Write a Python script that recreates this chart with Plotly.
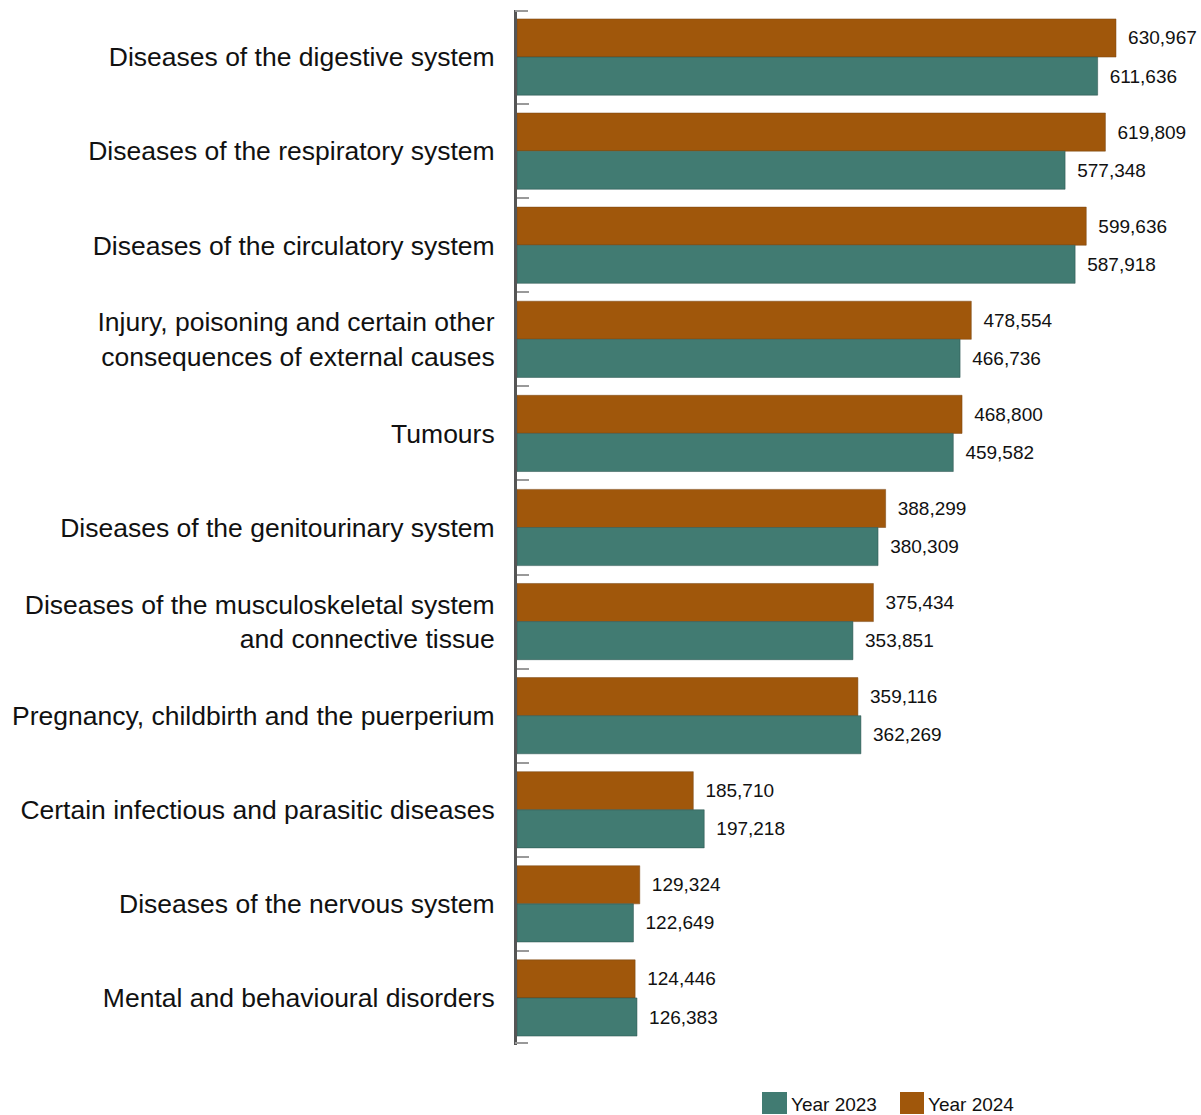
import plotly.graph_objects as go

categories = [
    "Diseases of the digestive system",
    "Diseases of the respiratory system",
    "Diseases of the circulatory system",
    "Injury, poisoning and certain other<br>consequences of external causes",
    "Tumours",
    "Diseases of the genitourinary system",
    "Diseases of the musculoskeletal system<br>and connective tissue",
    "Pregnancy, childbirth and the puerperium",
    "Certain infectious and parasitic diseases",
    "Diseases of the nervous system",
    "Mental and behavioural disorders",
]
year_2024 = [630967, 619809, 599636, 478554, 468800, 388299, 375434, 359116, 185710, 129324, 124446]
year_2023 = [611636, 577348, 587918, 466736, 459582, 380309, 353851, 362269, 197218, 122649, 126383]

C2023 = "#417B72"
C2024 = "#A0570B"
FONT = "Liberation Sans, Arial, sans-serif"

W, H = 1201, 1115
ML, MR, MT, MB = 517, 0, 10, 70
PW, PH = W - ML - MR, H - MT - MB

def px_x(x):
    return (x - ML) / PW

def px_y(y):
    return (H - MB - y) / PH

fig = go.Figure()
fig.add_trace(go.Bar(
    y=categories, x=year_2024, orientation="h", name="Year 2024",
    marker=dict(color=C2024, line=dict(color="rgba(120,70,20,0.5)", width=1)),
    text=["\u2009 " + f"{v:,}" for v in year_2024], textposition="outside",
    textfont=dict(size=19, color="#111", family=FONT), cliponaxis=False,
))
fig.add_trace(go.Bar(
    y=categories, x=year_2023, orientation="h", name="Year 2023",
    marker=dict(color=C2023, line=dict(color="rgba(40,80,75,0.5)", width=1)),
    text=["\u2009 " + f"{v:,}" for v in year_2023], textposition="outside",
    textfont=dict(size=19, color="#111", family=FONT), cliponaxis=False,
))

# custom legend
shapes = []
annotations = []
for x0, x1, tx, col, label in [
    (762, 787, 789, C2023, "Year 2023"),
    (900, 924, 926, C2024, "Year 2024"),
]:
    shapes.append(dict(type="rect", xref="paper", yref="paper",
                       x0=px_x(x0), x1=px_x(x1), y0=px_y(1114), y1=px_y(1092),
                       fillcolor=col, line=dict(width=0)))
    annotations.append(dict(xref="paper", yref="paper", x=px_x(tx), y=px_y(1104),
                            text=label, showarrow=False, xanchor="left", yanchor="middle",
                            font=dict(size=19, color="#111", family=FONT)))

# end ticks at top and bottom of the category axis
for yp in (11, 1043):
    shapes.append(dict(type="line", xref="paper", yref="paper",
                       x0=px_x(515), x1=px_x(528), y0=px_y(yp), y1=px_y(yp),
                       line=dict(color="#999", width=2)))

fig.update_layout(
    width=W, height=H,
    margin=dict(l=ML, r=MR, t=MT, b=MB),
    barmode="group", bargap=0.19, bargroupgap=0,
    plot_bgcolor="white", paper_bgcolor="white",
    showlegend=False,
    font=dict(family=FONT, color="#111"),
    xaxis=dict(visible=False, range=[0, 720500]),
    yaxis=dict(
        autorange="reversed", showline=True, linecolor="#555", linewidth=3,
        ticks="inside", tickson="boundaries", ticklen=12, tickwidth=2, tickcolor="#999",
        tickfont=dict(size=26.5, color="#111", family=FONT), ticklabelstandoff=14,
        showgrid=False, zeroline=False,
    ),
    shapes=shapes, annotations=annotations,
)

fig.write_html("out.html", config={"displayModeBar": False},
               post_script="document.body.style.margin='0px';document.body.style.overflow='hidden';")
